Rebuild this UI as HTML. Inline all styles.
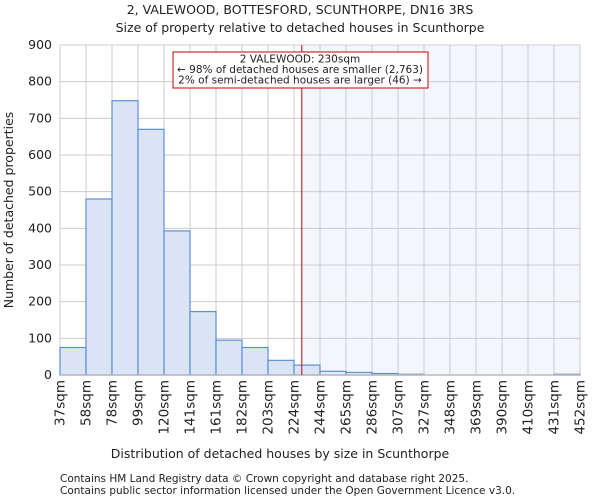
<!DOCTYPE html>
<html><head><meta charset="utf-8"><style>
body{margin:0;background:#fff;font-family:"DejaVu Sans","Liberation Sans",sans-serif;}
svg text{font-family:"DejaVu Sans","Liberation Sans",sans-serif;fill:#222;}
</style></head><body>
<svg id="c" width="600" height="500">
<text x="300" y="14" font-size="12.5" text-anchor="middle">2, VALEWOOD, BOTTESFORD, SCUNTHORPE, DN16 3RS</text>
<text x="300" y="32" font-size="12.5" text-anchor="middle">Size of property relative to detached houses in Scunthorpe</text>
<text x="280" y="458" font-size="12.5" text-anchor="middle">Distribution of detached houses by size in Scunthorpe</text>
<text transform="translate(13,210) rotate(-90)" font-size="12.5" text-anchor="middle">Number of detached properties</text>
<text x="60" y="482" font-size="10.5">Contains HM Land Registry data © Crown copyright and database right 2025.</text>
<text x="60" y="494" font-size="10.5">Contains public sector information licensed under the Open Government Licence v3.0.</text>
<g id="g"></g>
</svg>
<script>
const categories=["37sqm","58sqm","78sqm","99sqm","120sqm","141sqm","161sqm","182sqm","203sqm","224sqm","244sqm","265sqm","286sqm","307sqm","327sqm","348sqm","369sqm","390sqm","410sqm","431sqm","452sqm"];
const binEdges=[37,58,78,99,120,141,161,182,203,224,244,265,286,307,327,348,369,390,410,431,452];
const counts=[75,480,748,670,393,173,95,75,40,27,10,7,4,2,0,0,0,0,0,2];
const yTicks=[0,100,200,300,400,500,600,700,800,900];
const propertySize=230;
const NS="http://www.w3.org/2000/svg";
const g=document.getElementById('g');
const L=60,R=580,T=45,B=375,n=counts.length,bw=(R-L)/n;
const yS=v=>B-(v/900)*(B-T);
const xI=i=>L+i*bw;
function xV(v){for(let i=0;i<binEdges.length-1;i++){if(v<=binEdges[i+1])return xI(i)+(v-binEdges[i])/(binEdges[i+1]-binEdges[i])*bw;}return R;}
function mk(t,a){const e=document.createElementNS(NS,t);for(const k in a)e.setAttribute(k,a[k]);g.appendChild(e);return e;}
const px=xV(propertySize);
let e=mk('rect',{x:px,y:T,width:R-px,height:B-T,fill:'#f3f6fd'});


for(const t of yTicks){e=mk('line',{x1:L,x2:R,y1:yS(t),y2:yS(t),stroke:'#ccc','stroke-width':1});


e=mk('text',{x:L-8,y:yS(t)+4,'font-size':12.5,'text-anchor':'end'});e.textContent=t;

}
for(let i=0;i<=n;i++){e=mk('line',{x1:xI(i),x2:xI(i),y1:T,y2:B,stroke:'#ccc','stroke-width':1});

}
counts.forEach((c,i)=>{if(c<=0)return;e=mk('rect',{x:xI(i),y:yS(c),width:bw,height:B-yS(c),fill:xI(i)>=px?'#e4ebf8':'#dae4f4',stroke:'#5b8fd6','stroke-width':1.2});

});
categories.forEach((c,i)=>{const x=xI(i)+4.5;e=mk('text',{x:x,y:380,'font-size':13.5,'text-anchor':'end',transform:`rotate(-90 ${x} 380)`});e.textContent=c;

});
e=mk('line',{x1:L,x2:R,y1:B,y2:B,stroke:'#bbb','stroke-width':1.5});


e=mk('line',{x1:px,x2:px,y1:T,y2:B,stroke:'#cc0000','stroke-width':1});


e=mk('rect',{x:173,y:52,width:255,height:36,fill:'#fff',stroke:'#cc0000','stroke-width':1});


["2 VALEWOOD: 230sqm","← 98% of detached houses are smaller (2,763)","2% of semi-detached houses are larger (46) →"].forEach((s,i)=>{e=mk('text',{x:300,y:62.5+i*10.5,'font-size':10.5,'text-anchor':'middle'});e.textContent=s;

});
</script>
</body></html>
